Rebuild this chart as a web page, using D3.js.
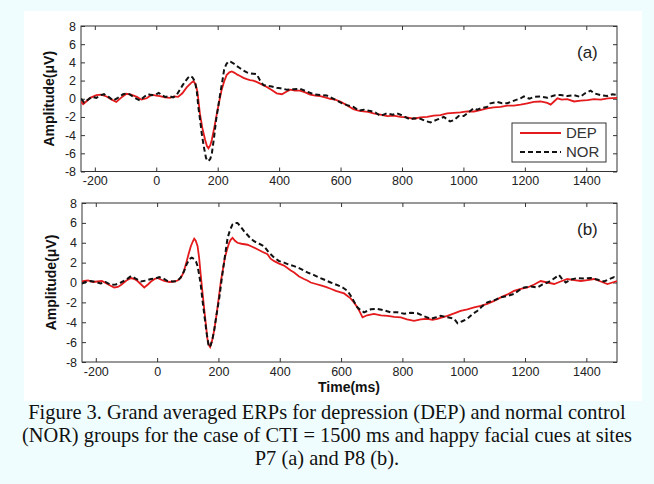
<html>
<head>
<meta charset="utf-8">
<script src="https://cdn.jsdelivr.net/npm/d3@7/dist/d3.min.js"></script>
<style>
    body { margin: 0; background: #f0fdff; }
    svg { display: block; }
    .tick text { font-family: "Liberation Sans", Arial, sans-serif; font-size: 12.5px; fill: #222; }
</style>
</head>
<body>
<svg id="fig" width="654" height="484"></svg>
<script>
// tick values
const xTicks = [-200, 0, 200, 400, 600, 800, 1000, 1200, 1400];
const yTicks = [-8, -6, -4, -2, 0, 2, 4, 6, 8];
const xDomain = [-245, 1500];
const yDomain = [-8, 8];

// (a) P7 - [time ms, amplitude uV]
const depA = [[-245,-0.3],[-238,-0.6],[-228,-0.3],[-215,0.1],[-195,0.4],[-180,0.45],[-162,0.25],[-145,-0.1],[-130,-0.35],[-115,0.1],[-97,0.55],[-82,0.45],[-63,0.2],[-48,-0.1],[-31,0.05],[-15,0.45],[0,0.35],[12,0.3],[28,0.15],[45,0.1],[58,0.25],[71,0.2],[85,0.6],[99,1.25],[112,1.7],[121,1.95],[128,1.6],[134,0.8],[142,-1.6],[150,-3.2],[159,-4.5],[165,-5.2],[170,-5.45],[176,-5.1],[181,-4.5],[190,-3.0],[197,-1.7],[205,-0.3],[213,1.0],[221,1.9],[229,2.6],[238,2.9],[246,3.0],[255,2.85],[264,2.65],[273,2.5],[284,2.3],[295,2.15],[305,2.05],[316,2.0],[330,1.8],[345,1.55],[360,1.3],[376,0.95],[392,0.6],[409,0.5],[422,0.75],[436,1.0],[452,0.9],[468,0.9],[485,0.7],[501,0.45],[518,0.35],[534,0.3],[550,0.15],[566,0.0],[582,-0.1],[599,-0.3],[620,-0.7],[642,-1.15],[658,-1.3],[674,-1.4],[690,-1.45],[707,-1.6],[730,-1.75],[752,-1.9],[773,-1.85],[795,-2.0],[815,-2.05],[838,-2.2],[860,-2.05],[882,-2.0],[903,-1.85],[925,-1.8],[947,-1.6],[969,-1.55],[990,-1.5],[1012,-1.4],[1034,-1.4],[1055,-1.25],[1077,-1.05],[1099,-0.95],[1121,-0.9],[1143,-0.75],[1164,-0.75],[1186,-0.65],[1208,-0.5],[1229,-0.35],[1251,-0.3],[1273,-0.45],[1284,-0.65],[1295,-0.3],[1306,0.05],[1320,-0.1],[1338,-0.05],[1360,-0.3],[1382,-0.2],[1404,-0.15],[1425,-0.05],[1447,-0.1],[1470,0.05],[1500,0.1]];
const norA = [[-245,0.0],[-235,-0.4],[-222,-0.1],[-210,0.2],[-195,0.1],[-180,0.4],[-170,0.5],[-155,0.2],[-140,-0.2],[-125,0.1],[-108,0.5],[-95,0.6],[-85,0.45],[-70,0.1],[-53,-0.2],[-40,0.2],[-27,0.5],[-15,0.4],[-2,0.45],[8,0.65],[18,0.4],[29,0.2],[42,0.3],[55,0.15],[66,0.4],[77,1.0],[86,1.5],[94,1.9],[103,2.3],[110,2.5],[118,2.35],[126,1.9],[132,0.8],[137,-0.9],[143,-2.4],[148,-3.8],[155,-5.3],[162,-6.5],[166,-6.8],[170,-6.85],[176,-6.6],[181,-6.0],[188,-4.3],[195,-2.3],[202,-0.8],[208,0.5],[215,1.9],[221,3.2],[228,3.8],[235,4.1],[243,4.05],[251,3.9],[262,3.6],[273,3.35],[284,3.1],[295,2.9],[305,2.8],[316,2.75],[327,2.7],[338,2.0],[349,1.5],[360,1.45],[376,1.35],[392,1.2],[404,1.15],[425,1.0],[447,1.05],[468,1.1],[490,0.8],[512,0.5],[534,0.4],[555,0.35],[571,0.1],[588,-0.2],[605,-0.5],[621,-0.7],[642,-0.9],[660,-1.3],[675,-1.2],[697,-1.35],[713,-1.5],[730,-1.9],[751,-1.6],[770,-1.75],[784,-1.6],[805,-1.9],[827,-2.3],[838,-2.15],[860,-2.2],[877,-2.45],[893,-2.6],[914,-2.3],[936,-2.0],[957,-2.5],[969,-2.35],[985,-1.9],[1001,-1.9],[1020,-1.4],[1033,-1.05],[1045,-1.2],[1062,-1.0],[1077,-0.9],[1088,-0.5],[1110,-0.35],[1126,-0.5],[1143,-0.5],[1165,-0.2],[1186,0.05],[1197,0.25],[1215,0.0],[1229,0.2],[1251,0.25],[1273,0.1],[1295,0.35],[1306,0.4],[1317,0.4],[1338,0.3],[1360,0.4],[1380,0.2],[1396,0.6],[1414,0.9],[1425,0.6],[1447,0.4],[1468,0.3],[1485,0.5],[1500,0.4]];

// (b) P8
const depB = [[-245,0.1],[-238,0.15],[-225,0.2],[-210,0.05],[-195,0.1],[-180,0.15],[-162,-0.15],[-150,-0.35],[-140,-0.5],[-128,-0.45],[-118,-0.25],[-100,0.2],[-85,0.45],[-74,0.35],[-64,0.15],[-52,-0.2],[-42,-0.5],[-30,-0.2],[-20,0.1],[-8,0.35],[1,0.45],[12,0.3],[23,0.15],[40,0.05],[55,0.1],[67,0.2],[77,0.45],[86,1.0],[94,1.85],[102,2.8],[110,3.65],[116,4.1],[121,4.4],[126,4.2],[132,3.65],[137,2.5],[142,0.85],[148,-1.0],[153,-2.5],[159,-4.2],[164,-5.65],[169,-6.3],[173,-6.5],[179,-5.9],[186,-4.85],[192,-3.6],[197,-2.5],[203,-1.1],[208,0.15],[215,1.4],[221,2.5],[228,3.3],[235,4.0],[240,4.3],[246,4.5],[254,4.2],[262,4.0],[275,3.9],[295,3.8],[310,3.6],[327,3.35],[343,3.1],[360,2.85],[370,2.4],[382,2.15],[398,1.9],[414,1.7],[436,1.2],[447,1.0],[463,0.6],[479,0.35],[490,0.2],[501,0.0],[518,-0.15],[534,-0.3],[550,-0.45],[566,-0.63],[583,-0.85],[599,-1.0],[610,-1.1],[631,-1.6],[642,-2.0],[653,-2.5],[662,-3.0],[670,-3.5],[685,-3.3],[707,-3.15],[730,-3.3],[752,-3.35],[773,-3.45],[795,-3.5],[815,-3.7],[838,-3.85],[860,-3.7],[882,-3.65],[898,-3.75],[914,-3.65],[930,-3.5],[947,-3.35],[969,-3.1],[990,-2.85],[1012,-2.7],[1034,-2.5],[1055,-2.35],[1077,-2.15],[1099,-1.85],[1121,-1.5],[1143,-1.2],[1164,-0.85],[1186,-0.65],[1208,-0.5],[1230,-0.2],[1251,0.15],[1273,0.0],[1295,-0.15],[1316,0.1],[1338,0.35],[1360,0.25],[1382,0.15],[1404,0.25],[1425,0.35],[1447,0.1],[1469,-0.15],[1485,0.0],[1500,0.15]];
const norB = [[-245,-0.1],[-238,0.0],[-227,0.1],[-216,0.15],[-200,0.05],[-184,-0.1],[-168,0.05],[-151,-0.25],[-135,-0.2],[-118,0.0],[-100,0.3],[-85,0.65],[-70,0.4],[-53,0.1],[-36,0.2],[-20,0.35],[-5,0.4],[7,0.55],[20,0.4],[34,0.15],[50,0.1],[66,0.15],[77,0.5],[88,1.15],[96,1.8],[105,2.35],[113,2.5],[121,2.35],[127,2.1],[132,1.65],[137,0.8],[142,-0.15],[148,-1.8],[155,-3.5],[162,-5.2],[167,-6.2],[170,-6.5],[175,-6.3],[181,-5.6],[186,-4.85],[194,-3.2],[203,-1.5],[208,-0.3],[213,0.85],[221,2.6],[230,4.5],[238,5.3],[246,5.85],[254,6.0],[262,6.0],[273,5.6],[284,5.15],[300,4.6],[316,4.15],[333,3.9],[349,3.65],[365,3.0],[382,2.5],[398,2.15],[414,2.0],[430,1.8],[447,1.65],[463,1.45],[479,1.2],[495,0.95],[512,0.75],[528,0.5],[544,0.3],[555,0.15],[566,0.0],[583,-0.2],[599,-0.4],[610,-0.6],[621,-0.85],[631,-1.3],[642,-1.9],[653,-2.5],[664,-2.8],[675,-3.0],[697,-2.7],[718,-2.65],[740,-2.8],[762,-3.0],[784,-3.0],[806,-3.15],[827,-3.05],[849,-3.1],[871,-3.4],[893,-3.65],[910,-3.5],[925,-3.35],[947,-3.5],[969,-3.65],[980,-4.1],[995,-3.9],[1012,-3.65],[1028,-3.2],[1045,-2.85],[1060,-2.4],[1077,-2.0],[1099,-1.8],[1121,-1.5],[1143,-1.35],[1164,-1.15],[1180,-0.8],[1197,-0.5],[1220,-0.4],[1241,-0.5],[1257,-0.2],[1273,0.0],[1290,0.3],[1311,0.75],[1322,0.3],[1333,0.0],[1350,0.3],[1371,0.45],[1392,0.4],[1414,0.45],[1435,0.3],[1458,0.1],[1475,0.35],[1491,0.55],[1500,0.5]];

const legendNames = ["DEP", "NOR"];
const captionLines = [
    "Figure 3. Grand averaged ERPs for depression (DEP) and normal control",
    "(NOR) groups for the case of CTI = 1500 ms and happy facial cues at sites",
    "P7 (a) and P8 (b)."
];

const svg = d3.select("#fig");
const RED = "#e41a1c";
const plainNum = d => String(d);   // keep ascii hyphen, no thousands comma

// white figure area
svg.append("rect").attr("x", 24).attr("y", 11).attr("width", 618).attr("height", 390).attr("fill", "#fff");

function drawPanel(box, dep, nor, tag, id, showLegend) {
    let x = d3.scaleLinear().domain(xDomain).range([box.left, box.right]);
    let y = d3.scaleLinear().domain(yDomain).range([box.bottom, box.top]);
    let g = svg.append("g");

    g.append("clipPath").attr("id", "clip" + id)
        .append("rect").attr("x", box.left).attr("y", box.top)
        .attr("width", box.right - box.left).attr("height", box.bottom - box.top);

    let bottom = g.append("g").attr("transform", "translate(0," + box.bottom + ")")
        .call(d3.axisBottom(x).tickValues(xTicks).tickFormat(plainNum).tickSizeInner(-4).tickSizeOuter(0).tickPadding(5));
    let top = g.append("g").attr("transform", "translate(0," + box.top + ")")
        .call(d3.axisTop(x).tickValues(xTicks).tickSizeInner(-4).tickSizeOuter(0).tickFormat(""));
    let left = g.append("g").attr("transform", "translate(" + box.left + ",0)")
        .call(d3.axisLeft(y).tickValues(yTicks).tickFormat(plainNum).tickSizeInner(-4).tickSizeOuter(0).tickPadding(5));
    let right = g.append("g").attr("transform", "translate(" + box.right + ",0)")
        .call(d3.axisRight(y).tickValues(yTicks).tickSizeInner(-4).tickSizeOuter(0).tickFormat(""));
    [bottom, top, left, right].forEach(a => {
        a.select(".domain").remove();
        a.selectAll(".tick line").attr("stroke", "#333");
    });

    g.append("rect").attr("x", box.left).attr("y", box.top)
        .attr("width", box.right - box.left).attr("height", box.bottom - box.top)
        .attr("fill", "none").attr("stroke", "#333").attr("stroke-width", 1);

    let line = d3.line().x(d => x(d[0])).y(d => y(d[1]));
    let lines = g.append("g").attr("clip-path", "url(#clip" + id + ")");
    lines.append("path").datum(dep).attr("d", line)
        .attr("fill", "none").attr("stroke", RED).attr("stroke-width", 1.8);
    lines.append("path").datum(nor).attr("d", line)
        .attr("fill", "none").attr("stroke", "#111").attr("stroke-width", 2)
        .attr("stroke-dasharray", "5,3");

    g.append("text").attr("x", 577).attr("y", box.top + 32)
        .style("font-family", "Liberation Sans, Arial, sans-serif").style("font-size", "17px")
        .attr("fill", "#222").text(tag);

    g.append("text")
        .attr("transform", "translate(" + box.labelX + "," + ((box.top + box.bottom) / 2) + ") rotate(-90)")
        .attr("text-anchor", "middle").attr("dy", "0.35em")
        .style("font-family", "Liberation Sans, Arial, sans-serif").style("font-size", "14px")
        .style("font-weight", "bold").attr("fill", "#111")
        .text("Amplitude(\u03BCV)");

    if (showLegend) {
        let lg = g.append("g");
        lg.append("rect").attr("x", 512).attr("y", 123).attr("width", 94).attr("height", 39)
            .attr("fill", "#fff").attr("stroke", "#333");
        legendNames.forEach((name, i) => {
            let ly = 133 + i * 19;
            lg.append("line").attr("x1", 520).attr("x2", 561).attr("y1", ly).attr("y2", ly)
                .attr("stroke", i == 0 ? RED : "#111").attr("stroke-width", 2)
                .attr("stroke-dasharray", i == 0 ? null : "5,3");
            lg.append("text").attr("x", 566).attr("y", ly).attr("dy", "0.36em")
                .style("font-family", "Liberation Sans, Arial, sans-serif").style("font-size", "15px")
                .attr("fill", "#333").text(name);
        });
    }
    return x;
}

drawPanel({left: 81, right: 617, top: 26, bottom: 171.5, labelX: 49}, depA, norA, "(a)", "a", true);
drawPanel({left: 82, right: 617, top: 203, bottom: 362, labelX: 51}, depB, norB, "(b)", "b", false);

svg.append("text").attr("x", 349).attr("y", 392).attr("text-anchor", "middle")
    .style("font-family", "Liberation Sans, Arial, sans-serif").style("font-size", "14px")
    .style("font-weight", "bold").attr("fill", "#111").text("Time(ms)");

svg.selectAll(".caption").data(captionLines).enter().append("text")
    .attr("class", "caption")
    .attr("x", 327).attr("y", (d, i) => 419 + i * 23)
    .attr("text-anchor", "middle")
    .style("font-family", "Liberation Serif, Times New Roman, serif").style("font-size", "20.4px")
    .attr("fill", "#111")
    .text(d => d);
</script>
</body>
</html>
